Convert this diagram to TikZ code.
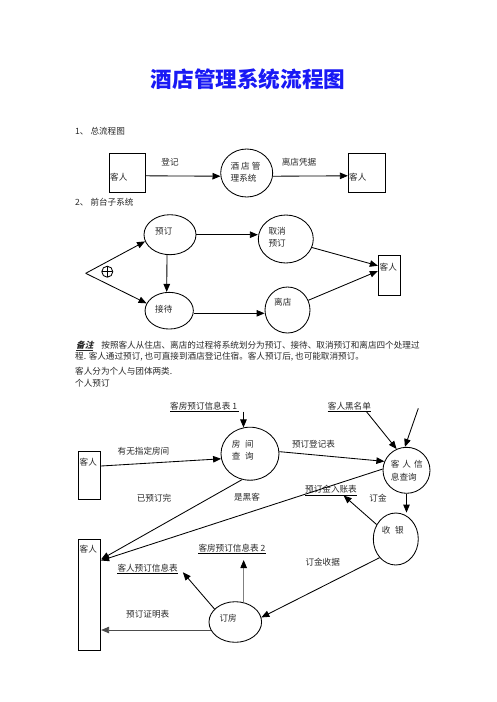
\documentclass[tikz,border=0pt]{standalone}
\usepackage{fontspec}
\setmainfont{Noto Sans CJK SC}
\newfontfamily\cjkslant[FakeSlant=0.25]{Noto Sans CJK SC}
\usetikzlibrary{shapes.geometric,arrows.meta,calc}
\definecolor{titleblue}{RGB}{25,25,245}
\definecolor{textgray}{RGB}{40,40,40}
\tikzset{
  base/.style={line width=0.85pt},
  arr/.style={base,-{Triangle[length=8pt,width=6.5pt]}},
  garr/.style={base,draw=gray,-{Triangle[length=8pt,width=6.5pt,color=black]}},
  ell/.style={draw,base,ellipse,inner sep=0pt},
  kbox/.style={draw,base,rectangle,inner sep=0pt},
  txt/.style={inner sep=0pt,anchor=west,font=\fontsize{8.6}{12.3}\selectfont,text=textgray,align=left},
  ctxt/.style={inner sep=0pt,anchor=center,font=\fontsize{8.6}{12.3}\selectfont,text=textgray},
  uline/.style={line width=1.4pt},
}
\begin{document}
\begin{tikzpicture}[x=1pt,y=-1pt]
\useasboundingbox (0,0) rectangle (496,702);
\fill[white] (0,0) rectangle (496,702);

% title
\node[inner sep=0pt,text=titleblue,font=\fontsize{21.6}{24}\selectfont\bfseries] (title) at (248,79) {酒店管理系统流程图};

% ---------- section 1
\node[txt] (s1) at (75,131) {1、 总流程图};
\node[kbox,minimum width=36.7pt,minimum height=39pt] (k1) at (127.3,172.8) {};
\node[txt] (k1t) at (110,176.7) {客人};
\node[ell,minimum width=52pt,minimum height=48pt] (sys) at (246.7,173) {};
\node[txt] (syst) at (230.5,172.2) {酒 店 管\\理系统};
\node[kbox,minimum width=37.4pt,minimum height=39pt] (k2) at (367,172.8) {};
\node[txt] (k2t) at (349,176.7) {客人};
\node[ctxt] (l1) at (170,162) {登记};
\node[ctxt] (l2) at (299,162) {离店凭据};
\draw[arr] ([yshift=-3pt]k1.east) -- (sys.187);
\draw[arr] (sys.353) -- ([yshift=-3pt]k2.west);

% ---------- section 2
\node[txt] (s2) at (75,202.7) {2、 前台子系统};
\node[ell,minimum width=52pt,minimum height=40pt] (yd) at (170,234.7) {};
\node[txt] (ydt) at (155,231.7) {预订};
\node[ell,minimum width=48.3pt,minimum height=36.7pt] (jd) at (169.2,310.7) {};
\node[txt] (jdt) at (155,309) {接待};
\node[ell,minimum width=55pt,minimum height=48pt] (qx) at (285.8,239) {};
\node[txt] (qxt) at (268.3,237.5) {取消\\预订};
\node[ell,minimum width=45pt,minimum height=46pt] (ld) at (287.5,310) {};
\node[txt] (ldt) at (274,301.7) {离店};
\node[kbox,minimum width=22.4pt,minimum height=40pt] (k3) at (389.5,275) {};
\node[txt] (k3t) at (379.5,266.7) {客人};
\coordinate (v) at (85.7,273.3);
\node[draw,base,circle,minimum size=11pt,inner sep=0pt,
  path picture={\draw[base] (path picture bounding box.north) -- (path picture bounding box.south)
  (path picture bounding box.west) -- (path picture bounding box.east);}] (plus) at (107.3,271.7) {};
\draw[arr] (v) -- (yd.195.6);
\draw[arr] (v) -- (jd.162);
\draw[arr] ([xshift=-3pt]yd.south) -- ([xshift=-2.5pt]jd.north);
\draw[arr] (yd.east) -- (yd.east -| qx.west);
\draw[arr] ([yshift=-2.6pt]jd.east) -- ([yshift=-2.6pt]jd.east -| ld.west);
\draw[arr] (qx.342) -- ([yshift=9.3pt]k3.west);
\draw[arr] (ld.25.7) -- ([yshift=4pt]k3.west);

% notes
\node[txt] (n1) at (76,346) {\underline{{\cjkslant\bfseries 备注}}\hspace{8pt}按照客人从住店、离店的过程将系统划分为预订、接待、取消预订和离店四个处理过};
\node[txt] (n2) at (75,356.7) {程. 客人通过预订, 也可直接到酒店登记住宿。客人预订后, 也可能取消预订。};
\node[txt] (n3) at (75,371) {客人分为个人与团体两类.};
\node[txt] (n4) at (75,383.3) {个人预订};

% ---------- section 3
\node[txt] (t1) at (170,406) {客房预订信息表 1};
\draw[uline] ([yshift=-5.2pt]t1.west) -- ([yshift=-5.2pt,xshift=2pt]t1.east);
\node[txt] (t2) at (327.7,406) {客人黑名单};
\draw[uline] ([yshift=-5.2pt]t2.west) -- ([yshift=-5.2pt]t2.east);
\node[txt] (t3) at (305,489.3) {预订金入账表};
\draw[uline] ([yshift=-6.2pt]t3.west) -- ([yshift=-6.2pt]t3.east);
\node[txt] (t4) at (198.3,548) {客房预订信息表 2};
\draw[uline] ([yshift=-5.2pt]t4.west) -- ([yshift=-5.2pt]t4.east);
\node[txt] (t5) at (117.3,568.3) {客人预订信息表};
\draw[uline] ([yshift=-5.4pt]t5.west) -- ([yshift=-5.4pt]t5.east);

\node[ell,minimum width=58pt,minimum height=53pt] (fj) at (250,453.7) {};
\node[txt] (fjt) at (231.7,450.5) {房\hspace{4.5pt}间\\查\hspace{4.5pt}询};
\node[ell,minimum width=47pt,minimum height=46pt] (ks) at (406.5,470.3) {};
\node[txt] (kst) at (390.7,470.8) {客\hspace{3pt}人\hspace{3pt}信\\息查询};
\node[ell,minimum width=45pt,minimum height=52pt] (sy) at (395.8,539) {};
\node[txt] (syt) at (381.7,530) {收\hspace{4.5pt}银};
\node[ell,minimum width=52.6pt,minimum height=40.6pt] (df) at (235.3,622) {};
\node[txt] (dft) at (219.3,618.3) {订房};

\node[kbox,minimum width=22.4pt,minimum height=48.3pt] (kk1) at (89.5,475.2) {};
\node[txt] (kk1t) at (79.5,462.3) {客人};
\node[kbox,minimum width=22.4pt,minimum height=110.7pt] (kk2) at (89.5,594.7) {};
\node[txt] (kk2t) at (79.5,549.3) {客人};

\node[ctxt] (la) at (143.5,451) {有无指定房间};
\node[ctxt] (lb) at (313.5,444) {预订登记表};
\node[ctxt] (lc) at (154,497.7) {已预订完};
\node[ctxt] (ld2) at (247,497.7) {是黑客};
\node[ctxt] (le) at (378,497.7) {订金};
\node[ctxt] (lf) at (322.7,562.3) {订金收据};
\node[ctxt] (lg) at (147.7,614) {预订证明表};

\coordinate (c1) at (418.3,408.3);

\draw[arr] (fj.104.6 |- 0,411.7) -- (fj.104.6);
\draw[arr] ([yshift=9.2pt]kk1.east) -- (fj.190.9);
\draw[arr] (fj.4) -- (ks.158.2);
\draw[arr] ([xshift=-5pt,yshift=-5.2pt]t2.east) -- (ks.115);
\draw[arr] (c1) -- (ks.94);
\draw[arr] (ks.south) -- (ks.south |- sy.north);
\draw[arr] (sy.143.8) -- ([xshift=-13.4pt,yshift=-6.2pt]t3.east);
\draw[arr] (fj.253.3) -- ([yshift=35.4pt]kk2.east);
\draw[arr] (ks.177.3) -- ([yshift=34.2pt]kk2.east);
\draw[arr] (sy.229.2) -- (df.10.4);
\draw[garr] (df.67.5) -- ($(df.67.5 |- t4.east)+(0,12)$);
\draw[arr] (df.148.1) -- ([xshift=5pt,yshift=-4pt]t5.east);
\draw[arr,draw=black!70] (df.198.3) -- (df.198.3 -| kk2.east);
\end{tikzpicture}
\end{document}
